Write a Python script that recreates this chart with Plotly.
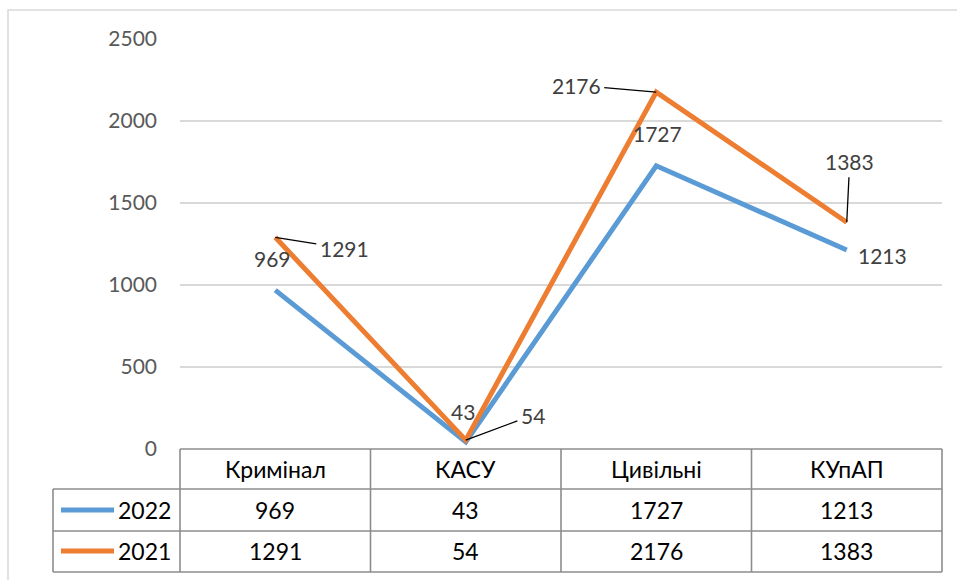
import plotly.graph_objects as go

categories = ["Кримінал", "КАСУ", "Цивільні", "КУпАП"]
series_names = ["2022", "2021"]
values_2022 = [969, 43, 1727, 1213]
values_2021 = [1291, 54, 2176, 1383]
y_ticks = [0, 500, 1000, 1500, 2000, 2500]

W, H = 957, 580
L, R, T, B = 180, 15, 39, 131
PW, PH = W - L - R, H - T - B

BLUE = "#5B9BD5"
ORANGE = "#ED7D31"
FONT = "Lato"


def px(x):
    return (x - L) / PW


def py(y):
    return (H - B - y) / PH


fig = go.Figure()
fig.add_trace(go.Scatter(x=categories, y=values_2022, mode="lines", name=series_names[0],
                         line=dict(color=BLUE, width=5), hoverinfo="skip"))
fig.add_trace(go.Scatter(x=categories, y=values_2021, mode="lines", name=series_names[1],
                         line=dict(color=ORANGE, width=5), hoverinfo="skip"))

shapes = []
annotations = []

# outer chart border
shapes.append(dict(type="rect", xref="paper", yref="paper", x0=px(8), x1=px(990), y0=py(10), y1=py(620),
                   line=dict(color="#D9D9D9", width=1.5), layer="below"))

# data table grid
grid = dict(color="#8C8C8C", width=1.6)
row_y = [449, 489, 531, 572]
shapes.append(dict(type="line", xref="paper", yref="paper", x0=0, x1=1, y0=py(row_y[0]), y1=py(row_y[0]), line=grid))
for yy in row_y[1:]:
    shapes.append(dict(type="line", xref="paper", yref="paper", x0=px(53), x1=1, y0=py(yy), y1=py(yy), line=grid))
shapes.append(dict(type="line", xref="paper", yref="paper", x0=px(53), x1=px(53), y0=py(489), y1=py(572), line=grid))
for i in range(len(categories) + 1):
    xx = i / len(categories)
    shapes.append(dict(type="line", xref="paper", yref="paper", x0=xx, x1=xx, y0=py(449), y1=py(572), line=grid))

tfont = dict(family=FONT, size=23, color="#000000")
row_centers = [469, 510, 551]
for i, c in enumerate(categories):
    xc = (i + 0.5) / len(categories)
    for text, yc in [(c, row_centers[0]), (str(values_2022[i]), row_centers[1]), (str(values_2021[i]), row_centers[2])]:
        annotations.append(dict(x=xc, y=py(yc), xref="paper", yref="paper", text=text,
                                showarrow=False, xanchor="center", yanchor="middle", font=tfont))

# legend keys in table
for name, col, yc in [(series_names[0], BLUE, row_centers[1]), (series_names[1], ORANGE, row_centers[2])]:
    shapes.append(dict(type="line", xref="paper", yref="paper", x0=px(61), x1=px(114), y0=py(yc), y1=py(yc),
                       line=dict(color=col, width=5)))
    annotations.append(dict(x=px(173), y=py(yc), xref="paper", yref="paper", text=name, showarrow=False,
                            xanchor="right", yanchor="middle", font=tfont))

# data labels
lfont = dict(family=FONT, size=21, color="#404040")
off_2022 = [(-3, -32), (-3, -30), (1, -32), (36, 5)]
off_2021 = [(69, 11), (67, -25), (-80, -7), (3, -61)]
for i, c in enumerate(categories):
    dx, dy = off_2022[i]
    annotations.append(dict(x=c, y=values_2022[i], xref="x", yref="y", text=str(values_2022[i]),
                            showarrow=True, arrowcolor="rgba(0,0,0,0)", ax=dx, ay=dy, font=lfont))
    dx, dy = off_2021[i]
    annotations.append(dict(x=c, y=values_2021[i], xref="x", yref="y", text=str(values_2021[i]),
                            showarrow=True, arrowhead=0, arrowwidth=1.3, arrowcolor="#000000",
                            standoff=0, startstandoff=2, ax=dx, ay=dy, font=lfont))

fig.update_layout(
    width=W, height=H,
    margin=dict(l=L, r=R, t=T, b=B),
    paper_bgcolor="white", plot_bgcolor="white",
    showlegend=False,
    shapes=shapes, annotations=annotations,
    xaxis=dict(type="category", range=[-0.5, len(categories) - 0.5], showticklabels=False,
               showgrid=False, zeroline=False, showline=False, ticks=""),
    yaxis=dict(range=[0, 2500], tickvals=y_ticks, showgrid=True, gridcolor="#D9D9D9", gridwidth=1.5,
               zeroline=False, showline=False, ticks="", ticklabelstandoff=22,
               tickfont=dict(family=FONT, size=21, color="#595959")),
)

fig.write_html("out.html", config={"displayModeBar": False},
               post_script="document.body.style.margin='0';document.body.style.overflow='hidden';")
